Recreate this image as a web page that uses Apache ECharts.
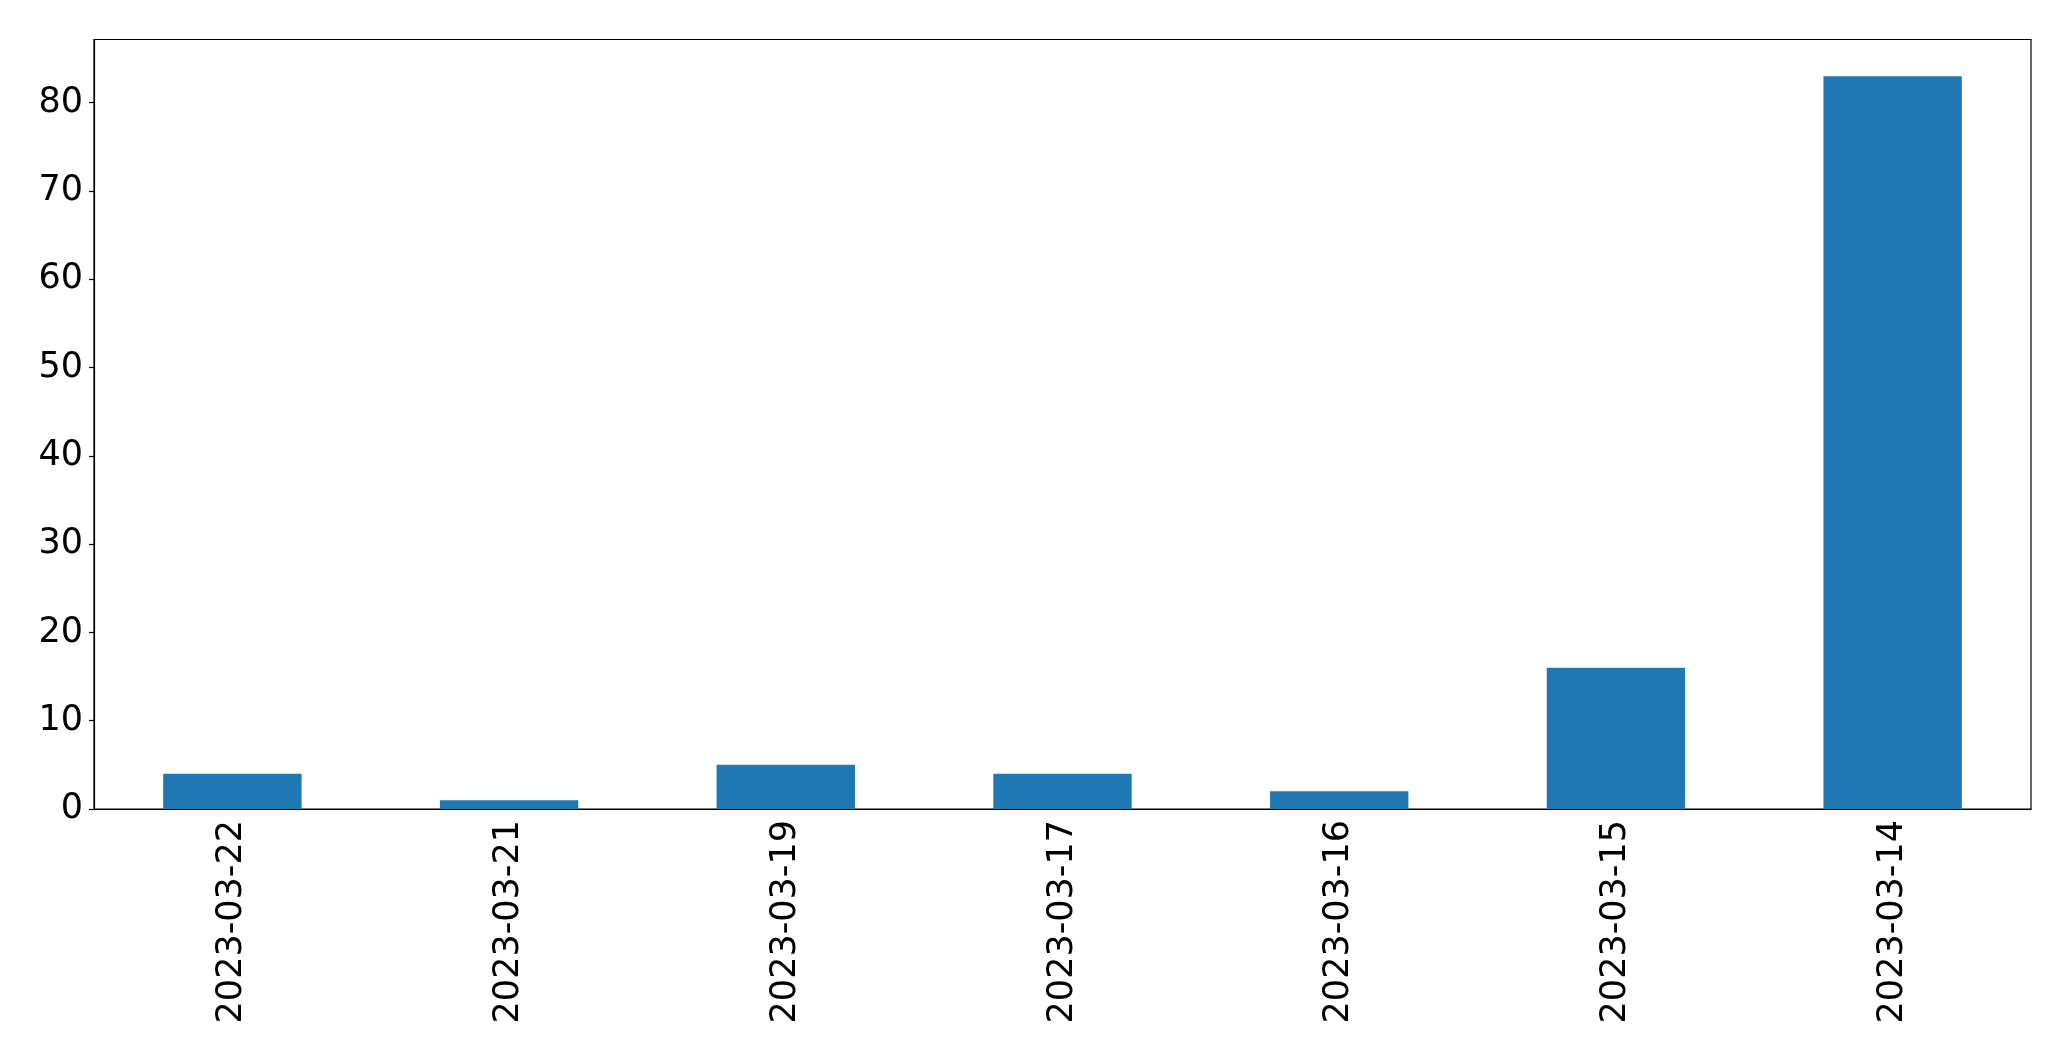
<!DOCTYPE html>
<html>
<head>
<meta charset="utf-8">
<script src="https://cdn.jsdelivr.net/npm/echarts@6/dist/echarts.min.js"></script>
<style>
  html, body { margin: 0; padding: 0; background: #fff; }
  #main { width: 2071px; height: 1061px; }
</style>
</head>
<body>
<div id="main"></div>
<script>
// 数据
var dates = ['2023-03-22', '2023-03-21', '2023-03-19', '2023-03-17', '2023-03-16', '2023-03-15', '2023-03-14'];
var counts = [4, 1, 5, 4, 2, 16, 83];
var yTicks = [0, 10, 20, 30, 40, 50, 60, 70, 80];

var font = 'DejaVu Sans';

var myChart = echarts.init(document.getElementById('main'));
var option = {
  backgroundColor: '#fff',
  animation: false,
  grid: {
    left: 94,
    right: 40,
    top: 39.5,
    bottom: 252,
    show: true,
    borderColor: '#000',
    borderWidth: 1.2
  },
  xAxis: {
    type: 'category',
    data: dates,
    axisLine: { lineStyle: { color: '#000', width: 1.2 } },
    axisTick: { alignWithLabel: true, length: 5, lineStyle: { color: '#000', width: 1.2 } },
    axisLabel: {
      rotate: 90,
      margin: 11,
      color: '#000',
      fontSize: 35,
      fontFamily: font
    },
    splitLine: { show: false }
  },
  yAxis: {
    type: 'value',
    min: 0,
    max: 87.15,
    interval: 10,
    axisLine: { show: true, lineStyle: { color: '#000', width: 1.2 } },
    axisTick: { show: true, length: 5, lineStyle: { color: '#000', width: 1.2 } },
    axisLabel: {
      margin: 11,
      color: '#000',
      fontSize: 35,
      fontFamily: font,
      showMaxLabel: false,
      formatter: function (v) { return yTicks.indexOf(v) >= 0 ? String(v) : ''; }
    },
    splitLine: { show: false }
  },
  series: [{
    type: 'bar',
    data: counts,
    barWidth: '50%',
    itemStyle: { color: '#1f77b4' }
  }]
};
myChart.setOption(option);
</script>
</body>
</html>
